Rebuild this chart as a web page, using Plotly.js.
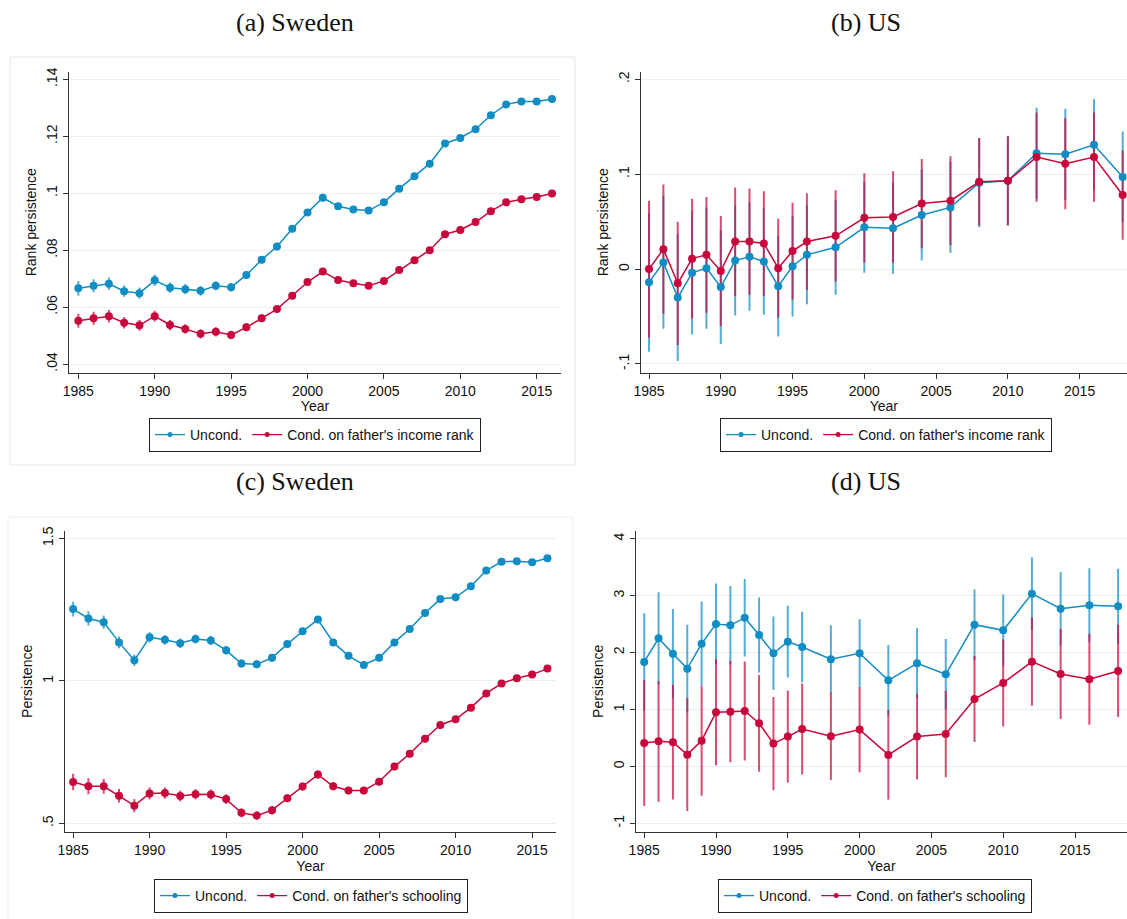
<!DOCTYPE html>
<html>
<head>
<meta charset="utf-8">
<script src="https://cdn.plot.ly/plotly-3.0.1.min.js"></script>
<style>
html,body{margin:0;padding:0;background:#fff;}
#chart{width:1127px;height:919px;}
</style>
</head>
<body>
<div id="chart"></div>
<script>
// ---------------- DATA ----------------
const yearsSweden = [1985,1986,1987,1988,1989,1990,1991,1992,1993,1994,1995,1996,1997,1998,1999,2000,2001,2002,2003,2004,2005,2006,2007,2008,2009,2010,2011,2012,2013,2014,2015,2016];
const yearsUS = [1985,1986,1987,1988,1989,1990,1991,1992,1993,1994,1995,1996,1998,2000,2002,2004,2006,2008,2010,2012,2014,2016,2018];

// (a) Sweden, rank persistence
const swRankUncond = [0.0666,0.0675,0.0682,0.0656,0.0649,0.0694,0.0668,0.0663,0.0657,0.0675,0.0670,0.0713,0.0766,0.0813,0.0875,0.0932,0.0984,0.0954,0.0943,0.0939,0.0968,0.1016,0.1060,0.1104,0.1175,0.1194,0.1225,0.1274,0.1312,0.1322,0.1322,0.1331];
const swRankUncondCI = [0.0026,0.0023,0.0022,0.0020,0.0020,0.0020,0.0018,0.0018,0.0017,0.0016,0.0015,0.0014,0.0013,0.0013,0.0012,0.0012,0.0012,0.0012,0.0011,0.0011,0.0011,0.0011,0.0011,0.0011,0.0010,0.0010,0.0010,0.0010,0.0010,0.0010,0.0010,0.0010];
const swRankCond = [0.0552,0.0561,0.0568,0.0545,0.0536,0.0568,0.0537,0.0523,0.0506,0.0513,0.0502,0.0529,0.0561,0.0593,0.0640,0.0688,0.0725,0.0695,0.0684,0.0675,0.0692,0.0730,0.0765,0.0800,0.0856,0.0871,0.0899,0.0937,0.0968,0.0979,0.0987,0.0999];
const swRankCondCI = [0.0025,0.0023,0.0022,0.0020,0.0019,0.0019,0.0018,0.0017,0.0016,0.0016,0.0015,0.0014,0.0013,0.0012,0.0012,0.0012,0.0012,0.0011,0.0011,0.0011,0.0011,0.0011,0.0010,0.0010,0.0010,0.0010,0.0010,0.0010,0.0010,0.0010,0.0010,0.0010];

// (b) US, rank persistence
const usRankUncond = [-0.014,0.007,-0.030,-0.004,0.001,-0.019,0.009,0.013,0.008,-0.018,0.003,0.015,0.023,0.044,0.043,0.057,0.065,0.091,0.093,0.122,0.121,0.131,0.097];
const usRankUncondCI = [0.073,0.070,0.067,0.065,0.064,0.060,0.058,0.057,0.056,0.053,0.053,0.052,0.050,0.048,0.048,0.048,0.048,0.047,0.047,0.048,0.048,0.048,0.048];
const usRankCond = [0.000,0.021,-0.015,0.011,0.015,-0.002,0.029,0.029,0.027,0.001,0.019,0.029,0.035,0.054,0.055,0.069,0.072,0.092,0.093,0.118,0.111,0.118,0.078];
const usRankCondCI = [0.072,0.068,0.065,0.063,0.061,0.058,0.057,0.056,0.055,0.052,0.051,0.051,0.048,0.047,0.048,0.047,0.047,0.046,0.047,0.047,0.048,0.047,0.047];

// (c) Sweden, schooling persistence
const swSchUncond = [1.252,1.219,1.206,1.135,1.072,1.153,1.144,1.132,1.147,1.142,1.107,1.061,1.058,1.081,1.129,1.174,1.215,1.135,1.088,1.056,1.081,1.135,1.182,1.238,1.287,1.293,1.332,1.387,1.418,1.420,1.416,1.430];
const swSchUncondCI = [0.026,0.025,0.023,0.021,0.020,0.018,0.017,0.017,0.016,0.016,0.015,0.014,0.014,0.013,0.013,0.013,0.013,0.013,0.012,0.012,0.012,0.012,0.012,0.012,0.012,0.012,0.012,0.011,0.011,0.011,0.011,0.011];
const swSchCond = [0.645,0.630,0.630,0.597,0.562,0.605,0.606,0.596,0.602,0.601,0.585,0.537,0.527,0.546,0.588,0.629,0.671,0.630,0.615,0.615,0.646,0.699,0.744,0.797,0.845,0.865,0.906,0.956,0.991,1.009,1.022,1.043];
const swSchCondCI = [0.029,0.028,0.026,0.024,0.023,0.021,0.020,0.019,0.018,0.018,0.017,0.016,0.015,0.015,0.014,0.014,0.014,0.014,0.013,0.013,0.013,0.013,0.013,0.013,0.013,0.012,0.012,0.012,0.012,0.012,0.012,0.012];

// (d) US, schooling persistence
const usSchUncond = [1.834,2.249,1.980,1.717,2.156,2.501,2.478,2.612,2.308,1.986,2.191,2.098,1.881,1.986,1.512,1.810,1.617,2.489,2.390,3.034,2.770,2.829,2.811];
const usSchUncondCI = [0.855,0.810,0.785,0.770,0.740,0.710,0.690,0.680,0.660,0.645,0.630,0.620,0.600,0.600,0.620,0.615,0.620,0.620,0.630,0.640,0.645,0.650,0.660];
const usSchCond = [0.411,0.440,0.423,0.206,0.452,0.950,0.961,0.973,0.757,0.400,0.523,0.657,0.529,0.646,0.201,0.523,0.569,1.184,1.465,1.840,1.623,1.529,1.676];
const usSchCondCI = [1.106,1.060,1.007,0.990,0.966,0.930,0.890,0.870,0.850,0.820,0.810,0.800,0.770,0.750,0.785,0.750,0.760,0.755,0.765,0.773,0.790,0.800,0.810];

const xTicks = [1985,1990,1995,2000,2005,2010,2015];
const xTickText = ['1985','1990','1995','2000','2005','2010','2015'];
const yTicksA = [0.04,0.06,0.08,0.10,0.12,0.14];
const yTickTextA = ['.04','.06','.08','.1','.12','.14'];
const yTicksB = [-0.1,0,0.1,0.2];
const yTickTextB = ['-.1','0','.1','.2'];
const yTicksC = [0.5,1,1.5];
const yTickTextC = ['.5','1','1.5'];
const yTicksD = [-1,0,1,2,3,4];
const yTickTextD = ['-1','0','1','2','3','4'];

const panelTitles = ['(a) Sweden','(b) US','(c) Sweden','(d) US'];
const nameUncond = 'Uncond.';
const nameCondRank = "Cond. on father's income rank";
const nameCondSch = "Cond. on father's schooling";
const yTitleRank = 'Rank persistence';
const yTitleSch = 'Persistence';
const xTitle = 'Year';

// ---------------- STYLE ----------------
const W = 1127, H = 919;
const BLUE = '#118dc4', RED = '#c8083c';
const BLUE_CI = 'rgba(17,141,196,0.72)', RED_CI = 'rgba(200,8,60,0.72)';
const px = v => v / W;
const py = v => 1 - v / H;
const FONT = 'Liberation Sans, Arial, sans-serif';

function panelTraces(xa, ya, leg, years, unc, uncCI, cond, condCI, condName) {
  const ci = (y, arr, col) => ({
    x: years, y: y, xaxis: xa, yaxis: ya, type: 'scatter', mode: 'markers',
    marker: {size: 1, opacity: 0}, showlegend: false, hoverinfo: 'skip',
    error_y: {type: 'data', array: arr, visible: true, color: col, thickness: 2, width: 0}
  });
  const ln = (y, col) => ({
    x: years, y: y, xaxis: xa, yaxis: ya, type: 'scatter', mode: 'lines+markers',
    showlegend: false, line: {color: col, width: 1.5},
    marker: {color: col, size: 8}, hoverinfo: 'skip'
  });
  // legend-only entries (no data drawn) with Stata-like small key markers
  const key = (col, name) => ({
    x: [null], y: [null], xaxis: xa, yaxis: ya, type: 'scatter', mode: 'lines+markers',
    name: name, legend: leg, line: {color: col, width: 1.3},
    marker: {color: col, size: 5}, hoverinfo: 'skip'
  });
  return [ci(unc, uncCI, BLUE_CI), ci(cond, condCI, RED_CI), ln(unc, BLUE), ln(cond, RED),
          key(BLUE, nameUncond), key(RED, condName)];
}

const traces = [].concat(
  panelTraces('x', 'y', 'legend', yearsSweden, swRankUncond, swRankUncondCI, swRankCond, swRankCondCI, nameCondRank),
  panelTraces('x2', 'y2', 'legend2', yearsUS, usRankUncond, usRankUncondCI, usRankCond, usRankCondCI, nameCondRank),
  panelTraces('x3', 'y3', 'legend3', yearsSweden, swSchUncond, swSchUncondCI, swSchCond, swSchCondCI, nameCondSch),
  panelTraces('x4', 'y4', 'legend4', yearsUS, usSchUncond, usSchUncondCI, usSchCond, usSchCondCI, nameCondSch)
);

function xAxis(anchor, dom, range) {
  return {
    anchor: anchor, domain: dom, range: range,
    tickvals: xTicks, ticktext: xTickText, ticks: 'outside', ticklen: 5, tickwidth: 1, tickcolor: '#333',
    showline: true, linecolor: '#333', linewidth: 1, showgrid: false, zeroline: false,
    tickfont: {family: FONT, size: 14, color: '#111'},
    title: {text: xTitle, font: {family: FONT, size: 14, color: '#111'}, standoff: 2}
  };
}
function yAxis(anchor, dom, range, tv, tt, title) {
  return {
    anchor: anchor, domain: dom, range: range,
    tickvals: tv, ticktext: tt, tickangle: -90, ticks: 'outside', ticklen: 5, tickwidth: 1, tickcolor: '#333',
    showline: true, linecolor: '#333', linewidth: 1, showgrid: true, gridcolor: '#e8f0f2', gridwidth: 1, zeroline: false,
    tickfont: {family: FONT, size: 14, color: '#111'},
    title: {text: title, font: {family: FONT, size: 14, color: '#111'}, standoff: 4}
  };
}
function legend(cx, top) {
  return {
    orientation: 'h', x: px(cx), xanchor: 'center', y: py(top), yanchor: 'top',
    bordercolor: '#222', borderwidth: 1, bgcolor: '#fff',
    font: {family: FONT, size: 14, color: '#111'}, traceorder: 'normal'
  };
}
function title(t, cx, cy) {
  return {text: t, x: px(cx), y: py(cy), xref: 'paper', yref: 'paper', showarrow: false,
    xanchor: 'center', yanchor: 'middle', font: {family: 'Liberation Serif, Times New Roman, serif', size: 26, color: '#111'}};
}

const layout = {
  width: W, height: H, margin: {l: 0, r: 0, t: 0, b: 0},
  paper_bgcolor: '#fff', plot_bgcolor: '#fff', showlegend: true,
  xaxis:  xAxis('y',  [px(69), px(561)],   [1984.39, 2016.59]),
  yaxis:  yAxis('x',  [py(372.7), py(71.7)], [0.03695, 0.1427], yTicksA, yTickTextA, yTitleRank),
  xaxis2: xAxis('y2', [px(640.7), 1],      [1984.42, 2018.3]),
  yaxis2: yAxis('x2', [py(372.7), py(71.7)], [-0.1092, 0.208], yTicksB, yTickTextB, yTitleRank),
  xaxis3: xAxis('y3', [px(65), px(556)],   [1984.47, 2016.56]),
  yaxis3: yAxis('x3', [py(832), py(530.7)], [0.4695, 1.527], yTicksC, yTickTextC, yTitleSch),
  xaxis4: xAxis('y4', [px(635.8), 1],      [1984.415, 2018.62]),
  yaxis4: yAxis('x4', [py(832), py(530.7)], [-1.153, 4.14], yTicksD, yTickTextD, yTitleSch),
  legend: legend(315, 418),
  legend2: legend(886, 418),
  legend3: legend(311, 879),
  legend4: legend(875, 879),
  annotations: [
    title(panelTitles[0], 295, 22),
    title(panelTitles[1], 866, 22),
    title(panelTitles[2], 295, 481),
    title(panelTitles[3], 866, 481)
  ],
  shapes: [
    {type: 'rect', xref: 'paper', yref: 'paper', x0: px(10), x1: px(575), y0: py(465), y1: py(57), line: {color: '#e6e6e6', width: 1}, layer: 'below'},
    {type: 'rect', xref: 'paper', yref: 'paper', x0: px(8), x1: px(573), y0: py(930), y1: py(517), line: {color: '#ececec', width: 1}, layer: 'below'}
  ]
};

Plotly.newPlot('chart', traces, layout, {staticPlot: true, displayModeBar: false});
</script>
</body>
</html>
